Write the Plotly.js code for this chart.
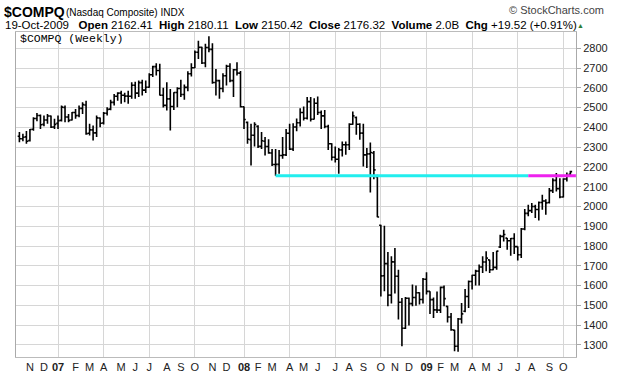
<!DOCTYPE html>
<html><head><meta charset="utf-8">
<script src="https://cdn.plot.ly/plotly-3.0.1.min.js"></script>
<style>html,body{margin:0;padding:0;background:#fff}#chart{width:620px;height:376px}</style>
</head><body><div id="chart"></div>
<script>
// Weekly bars, first week 16-Oct-2006, one bar per week
const firstWeek = '2006-10-16';
const opens = [2355,2342,2352,2333,2390,2445,2460,2415,2437,2457,2402,
2420,2435,2500,2452,2437,2475,2460,2496,2513,2370,2387,2372,2447,2422,2471,2492,2526,2557,2573,2562,2558,2557,2613,2573,2626,2588,2603,2666,2707,2687,2562,2511,2544,2505,2576,2596,2566,2602,2671,2701,2780,2805,2725,2804,2794,2627,2636,2596,2661,2709,2636,2691,2674,
2504,2425,2338,2360,2405,2304,2330,2303,2270,2212,2213,2258,2261,2370,2290,2402,2423,2475,2446,2530,2441,2522,2475,2458,2404,2317,2249,2239,2286,2312,2312,2416,2450,2416,2371,2261,2266,2270,2150,1905,1650,1711,1552,1720,1647,1516,1384,1536,1509,1540,1564,1530,
1632,1571,1529,1477,1476,1591,1495,1441,1375,1293,1431,1470,1545,1621,1652,1673,1694,1719,1730,1680,1692,1795,1849,1840,1827,1838,1797,1756,1886,1965,1979,2000,1985,2020,2028,2020,2080,2132,2090,2048,2139,2162.41];
const highs = [2376,2367,2381,2392,2451,2472,2465,2460,2468,2460,2443,
2460,2510,2510,2468,2477,2493,2510,2527,2535,2418,2409,2460,2450,2477,2502,2539,2569,2578,2585,2575,2585,2628,2630,2637,2640,2637,2674,2712,2724,2721,2600,2628,2594,2578,2603,2640,2616,2684,2724,2788,2838,2808,2822,2861,2825,2695,2640,2674,2717,2724,2695,2729,2685,
2505,2430,2418,2426,2410,2376,2351,2340,2291,2291,2286,2351,2392,2418,2421,2445,2497,2505,2553,2553,2547,2556,2485,2488,2413,2320,2303,2295,2328,2328,2421,2480,2455,2421,2418,2295,2323,2280,2160,1908,1903,1770,1748,1790,1680,1537,1542,1540,1605,1600,1566,1638,
1668,1571,1540,1570,1596,1600,1498,1462,1377,1436,1512,1583,1626,1655,1680,1706,1748,1773,1731,1770,1776,1857,1882,1840,1840,1865,1798,1891,1987,2009,2017,2009,2025,2059,2037,2093,2143,2169,2143,2143,2172,2180.11];
const lows = [2325,2330,2317,2328,2383,2431,2392,2405,2418,2397,2392,
2392,2430,2426,2426,2434,2443,2451,2468,2362,2359,2333,2351,2401,2415,2460,2486,2510,2535,2519,2527,2519,2544,2544,2553,2561,2573,2600,2654,2662,2561,2500,2485,2384,2488,2502,2553,2539,2583,2657,2700,2746,2720,2704,2780,2620,2561,2544,2578,2611,2628,2553,2662,2500,
2392,2317,2207,2303,2295,2291,2258,2266,2205,2155,2165,2241,2255,2285,2280,2380,2404,2434,2440,2429,2440,2463,2391,2396,2286,2232,2222,2165,2253,2261,2286,2413,2362,2337,2202,2194,2071,2138,1945,1545,1571,1495,1509,1560,1428,1293,1380,1398,1495,1498,1505,1509,
1555,1456,1436,1462,1462,1495,1414,1372,1268,1265,1408,1465,1487,1580,1600,1600,1664,1672,1664,1677,1680,1790,1823,1781,1751,1760,1727,1740,1880,1950,1967,1942,1929,1983,1958,2015,2068,2076,2042,2045,2126,2150.42];
const closes = [2342,2350,2330,2389,2445,2460,2413,2437,2457,2401,2415,
2434,2502,2452,2435,2475,2459,2496,2515,2368,2387,2372,2448,2421,2471,2491,2526,2557,2573,2562,2558,2557,2613,2573,2626,2588,2603,2666,2707,2687,2562,2511,2544,2505,2576,2596,2566,2602,2671,2701,2780,2805,2725,2804,2794,2627,2636,2596,2661,2709,2636,2691,2674,2504,
2440,2340,2360,2414,2304,2332,2303,2271,2212,2213,2258,2261,2370,2290,2402,2423,2475,2446,2530,2441,2522,2475,2458,2404,2317,2249,2239,2286,2312,2312,2416,2458,2416,2371,2261,2266,2273,2185,1947,1649,1711,1552,1720,1647,1516,1384,1536,1509,1540,1564,1530,1632,
1571,1529,1477,1476,1591,1534,1441,1377,1293,1431,1457,1545,1621,1652,1673,1694,1719,1739,1680,1692,1774,1849,1858,1827,1838,1797,1756,1886,1965,1979,2000,1985,2020,2028,2018,2080,2132,2090,2048,2139,2156,2176.32];

// month labels (first weekly bar of each month)
const monthTickDates = ['2006-11-06','2006-12-04','2007-01-01','2007-02-05','2007-03-05','2007-04-02','2007-05-07','2007-06-04','2007-07-02','2007-08-06','2007-09-03','2007-10-01','2007-11-05','2007-12-03','2008-01-07','2008-02-04','2008-03-03','2008-04-07','2008-05-05','2008-06-02','2008-07-07','2008-08-04','2008-09-01','2008-10-06','2008-11-03','2008-12-01','2009-01-05','2009-02-02','2009-03-02','2009-04-06','2009-05-04','2009-06-01','2009-07-06','2009-08-03','2009-09-07','2009-10-05'];
const monthTickLabels = ['N','D','<b>07</b>','F','M','A','M','J','J','A','S','O','N','D','<b>08</b>','F','M','A','M','J','J','A','S','O','N','D','<b>09</b>','F','M','A','M','J','J','A','S','O'];
const quarterGridDates = ['2007-01-01','2007-04-02','2007-07-02','2007-10-01','2008-01-07','2008-04-07','2008-07-07','2008-10-06','2009-01-05','2009-04-06','2009-07-06','2009-10-05'];

// support level line
const levelValue = 2155;
const levelCyanDates = ['2008-03-10','2009-07-27'];
const levelMagentaDates = ['2009-07-27','2009-10-30'];

const dayMs = 864e5;
const t0 = Date.parse(firstWeek + 'T00:00:00Z');
const weekDates = closes.map((_, i) => new Date(t0 + i * 7 * dayMs).toISOString().slice(0, 10));
const xRange = ['2006-10-09 05:00', '2009-10-30 05:00'];

// plot area in pixels for header placement
const P = {l: 16, t: 32, w: 560, h: 325};
const px = x => (x - P.l) / P.w;
const py = y => (P.t + P.h - y) / P.h;
const FONT = 'Liberation Sans, Arial, sans-serif';

const traces = [
  {type: 'ohlc', x: weekDates, open: opens, high: highs, low: lows, close: closes,
   increasing: {line: {color: '#000', width: 1.6}}, decreasing: {line: {color: '#000', width: 1.6}},
   tickwidth: 0.5, hoverinfo: 'skip', showlegend: false, xaxis: 'x', yaxis: 'y'},
  {type: 'scatter', mode: 'lines', x: levelCyanDates, y: levelCyanDates.map(() => levelValue),
   line: {color: '#22eeee', width: 3}, xaxis: 'x2', yaxis: 'y', showlegend: false, hoverinfo: 'skip'},
  {type: 'scatter', mode: 'lines', x: levelMagentaDates, y: levelMagentaDates.map(() => levelValue),
   line: {color: '#ee22ee', width: 3}, xaxis: 'x2', yaxis: 'y', showlegend: false, hoverinfo: 'skip'}
];

const ann = (x, y, text, opt) => Object.assign({xref: 'paper', yref: 'paper', x: px(x), y: py(y),
  text: text, showarrow: false, xanchor: 'left', yanchor: 'middle',
  font: {family: FONT, size: 11, color: '#000'}}, opt || {});

const layout = {
  width: 620, height: 376,
  margin: {l: P.l, r: 620 - P.l - P.w, t: P.t, b: 376 - P.t - P.h, pad: 0},
  paper_bgcolor: '#fff', plot_bgcolor: '#fff',
  showlegend: false,
  font: {family: FONT, size: 11, color: '#222'},
  xaxis: {type: 'date', range: xRange, tickmode: 'array', tickvals: monthTickDates, ticktext: monthTickLabels,
    showgrid: false, zeroline: false, ticks: '', showline: true, linecolor: '#bbb', mirror: true,
    tickfont: {family: FONT, size: 11, color: '#222'}, rangeslider: {visible: false}, fixedrange: true},
  xaxis2: {type: 'date', overlaying: 'x', range: xRange, tickmode: 'array', tickvals: quarterGridDates,
    showgrid: true, gridcolor: '#d6d6d6', gridwidth: 1, showticklabels: false, ticks: '', showline: false,
    zeroline: false, fixedrange: true},
  yaxis: {side: 'right', range: [1239, 2882], tickmode: 'linear', tick0: 1300, dtick: 100,
    showgrid: true, gridcolor: '#d6d6d6', gridwidth: 1, zeroline: false,
    showline: true, linecolor: '#aaa', mirror: true, ticks: 'outside', ticklen: 4, tickcolor: '#aaa',
    tickfont: {family: FONT, size: 11, color: '#222'}, fixedrange: true},
  annotations: [
    ann(2, 12, '<b>$COMPQ</b>', {font: {family: FONT, size: 14, color: '#000'}}),
    ann(64, 13, '(Nasdaq Composite) INDX', {font: {family: FONT, size: 10, color: '#000'}}),
    ann(606, 10, '© StockCharts.com', {xanchor: 'right', font: {family: FONT, size: 11, color: '#444'}}),
    ann(3, 25, '19-Oct-2009   <b>Open</b> 2162.41  <b>High</b> 2180.11  <b>Low</b> 2150.42  <b>Close</b> 2176.32  <b>Volume</b> 2.0B  <b>Chg</b> +19.52 (+0.91%)',
      {font: {family: FONT, size: 11.5, color: '#000'}}),
    ann(580, 25, '▲', {xanchor: 'center', font: {family: FONT, size: 7, color: '#2e7d32'}}),
    ann(18, 39, '$COMPQ (Weekly)', {font: {family: 'Liberation Mono, DejaVu Sans Mono, monospace', size: 11.5, color: '#000'}})
  ]
};

Plotly.newPlot('chart', traces, layout, {staticPlot: true, displayModeBar: false});
</script></body></html>
